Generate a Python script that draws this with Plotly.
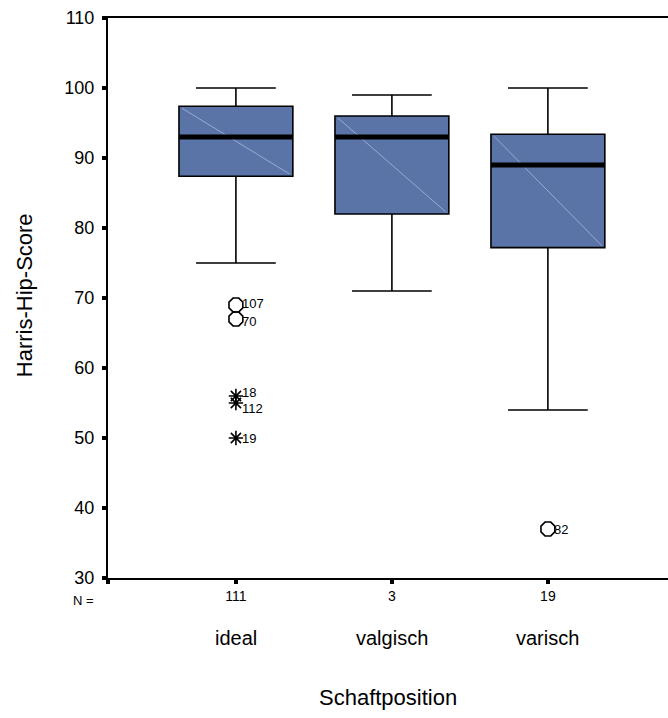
import plotly.graph_objects as go

# Harris-Hip-Score by stem position (summary statistics per group)
categories = ["ideal", "valgisch", "varisch"]
counts = [111, 3, 19]
q1 = [87.4, 82.0, 77.2]
median = [93.0, 93.0, 89.0]
q3 = [97.4, 96.0, 93.4]
lower_whisker = [75.0, 71.0, 54.0]
upper_whisker = [100.0, 99.0, 100.0]

# Outliers (circles) and extremes (stars) with case numbers
outlier_group = [0, 0, 2]
outlier_value = [69, 67, 37]
outlier_case = ["107", "70", "82"]
extreme_group = [0, 0, 0]
extreme_value = [56, 55, 50]
extreme_case = ["18", "112", "19"]
# small vertical nudges (px) so neighbouring case labels stay legible
outlier_label_shift = [2, -2, 0]
extreme_label_shift = [4, -5, 0]

y_ticks = [30, 40, 50, 60, 70, 80, 90, 100, 110]

BOX_FILL = "#5a74a8"
DIAG = "#a9b9da"
FONT = "Liberation Sans, Arial, sans-serif"
box_w = 0.73
positions = list(range(len(categories)))

fig = go.Figure()

for i, pos in enumerate(positions):
    fig.add_trace(go.Box(
        x=[pos], q1=[q1[i]], median=[median[i]], q3=[q3[i]],
        lowerfence=[lower_whisker[i]], upperfence=[upper_whisker[i]],
        width=box_w, whiskerwidth=0.7, boxpoints=False,
        fillcolor=BOX_FILL, line=dict(color="black", width=1.6),
        hoverinfo="skip", showlegend=False,
    ))
    # faint diagonal shading stroke across the box
    fig.add_trace(go.Scatter(
        x=[pos - box_w / 2 + 0.02, pos + box_w / 2 - 0.02], y=[q3[i] - 0.3, q1[i] + 0.3],
        mode="lines", line=dict(color=DIAG, width=0.8),
        hoverinfo="skip", showlegend=False,
    ))
    # heavy median bar
    fig.add_trace(go.Scatter(
        x=[pos - box_w / 2, pos + box_w / 2], y=[median[i], median[i]],
        mode="lines", line=dict(color="black", width=5),
        hoverinfo="skip", showlegend=False,
    ))

fig.add_trace(go.Scatter(
    x=[positions[g] for g in outlier_group], y=outlier_value,
    mode="markers",
    marker=dict(symbol="octagon-open", size=15, color="black", line=dict(width=1.6)),
    hoverinfo="skip", showlegend=False, cliponaxis=False,
))
fig.add_trace(go.Scatter(
    x=[positions[g] for g in extreme_group], y=extreme_value,
    mode="markers",
    marker=dict(symbol="asterisk-open", size=12, color="black", line=dict(width=1.6)),
    hoverinfo="skip", showlegend=False, cliponaxis=False,
))

annotations = []
# case-number labels beside each outlier / extreme
for groups, values, cases, shifts in (
    (outlier_group, outlier_value, outlier_case, outlier_label_shift),
    (extreme_group, extreme_value, extreme_case, extreme_label_shift),
):
    for g, v, c, s in zip(groups, values, cases, shifts):
        annotations.append(dict(x=positions[g], y=v, xref="x", yref="y", text=c,
                                showarrow=False, xanchor="left", yanchor="middle",
                                xshift=5, yshift=s, borderpad=0,
                                font=dict(family=FONT, size=13, color="black")))

# category names, N label and axis titles
for pos, cat in zip(positions, categories):
    annotations.append(dict(x=pos, y=-0.107, xref="x", yref="paper", text=cat,
                            showarrow=False, font=dict(family=FONT, size=20, color="black"),
                            xanchor="center", yanchor="middle"))
annotations.append(dict(x=-0.043, y=-0.041, xref="paper", yref="paper", text="N =",
                        showarrow=False, font=dict(family=FONT, size=13, color="black"),
                        xanchor="center", yanchor="middle"))
annotations.append(dict(x=0.5, y=-0.214, xref="paper", yref="paper", text="Schaftposition",
                        showarrow=False, font=dict(family=FONT, size=22, color="black"),
                        xanchor="center", yanchor="middle"))
annotations.append(dict(x=-0.15, y=0.505, xref="paper", yref="paper", text="Harris-Hip-Score",
                        textangle=-90, showarrow=False,
                        font=dict(family=FONT, size=22, color="black"),
                        xanchor="center", yanchor="middle"))

fig.update_layout(
    width=668, height=718,
    margin=dict(l=108, r=0, t=18, b=140),
    paper_bgcolor="white", plot_bgcolor="white",
    font=dict(family=FONT, color="black"),
    annotations=annotations,
    xaxis=dict(
        range=[-0.82, 2.77], tickvals=[-0.82] + positions,
        ticktext=[""] + [str(n) for n in counts],
        tickfont=dict(family=FONT, size=14, color="black"),
        ticks="outside", ticklen=4, tickwidth=4, tickcolor="black",
        showline=True, linecolor="black", linewidth=2, mirror=True,
        showgrid=False, zeroline=False, fixedrange=True,
    ),
    yaxis=dict(
        range=[30, 110], tickvals=y_ticks,
        tickfont=dict(family=FONT, size=18, color="black"),
        ticks="outside", ticklen=4, tickwidth=4, tickcolor="black",
        ticklabelstandoff=4,
        showline=True, linecolor="black", linewidth=2,
        showgrid=False, zeroline=False, fixedrange=True,
    ),
)

fig.write_html("out.html")
